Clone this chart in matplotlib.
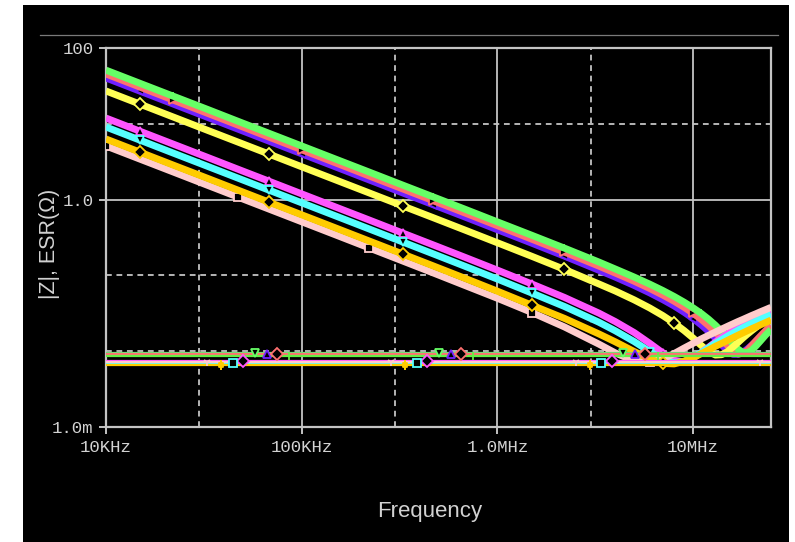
import matplotlib
matplotlib.use("Agg")
import matplotlib.pyplot as plt
from matplotlib.patches import Rectangle
from matplotlib.lines import Line2D
from matplotlib.ticker import FixedLocator, NullLocator

# frequency points (Hz) shared by all |Z| traces
freq = [1e4, 1.5e4, 2.2e4, 3.3e4, 4.7e4, 6.8e4, 1e5, 1.5e5, 2.2e5, 3.3e5, 4.7e5, 6.8e5,
        1e6, 1.5e6, 2.2e6, 3.3e6,
        4e6, 5e6, 6e6, 7e6, 8e6, 9e6, 10e6, 11e6, 12e6, 13e6, 14e6, 15e6, 16e6, 17e6,
        18e6, 19e6, 20e6, 21e6, 22e6,
        23.5e6, 25e6]

# |Z| in ohms
z_green = [51, 34.0, 23.2, 15.5, 10.85, 7.50, 5.10, 3.40, 2.32, 1.545, 1.085, 0.750,
           0.508, 0.338, 0.229, 0.150,
           0.1215, 0.0950, 0.0767, 0.0632, 0.0527, 0.0443, 0.0373, 0.0315, 0.0264, 0.0220,
           0.0182, 0.0150, 0.0124, 0.0106, 0.0096, 0.0096, 0.0104, 0.0118, 0.0135,
           0.0164, 0.0193]
z_salmon = [45.4, 30.3, 20.6, 13.76, 9.66, 6.68, 4.54, 3.03, 2.06, 1.376, 0.966, 0.668,
            0.4525, 0.300, 0.203, 0.1326,
            0.1074, 0.0837, 0.0672, 0.0550, 0.0456, 0.0379, 0.0316, 0.0263, 0.0217, 0.0178,
            0.0145, 0.0119, 0.0101, 0.0092, 0.0094, 0.0104, 0.0120, 0.0138, 0.0157,
            0.0187, 0.0218]
z_blue = [40.2, 26.8, 18.27, 12.18, 8.55, 5.91, 4.02, 2.68, 1.827, 1.218, 0.855, 0.591,
          0.4005, 0.2658, 0.1795, 0.1169,
          0.0950, 0.0736, 0.0588, 0.0479, 0.0395, 0.0326, 0.0270, 0.0222, 0.0182, 0.0148,
          0.0121, 0.0101, 0.0091, 0.0091, 0.0097, 0.0108, 0.0121, 0.0136, 0.0152,
          0.0176, 0.0203]
z_yellow = [27.1, 18.07, 12.32, 8.21, 5.77, 3.99, 2.71, 1.807, 1.232, 0.821, 0.577, 0.398,
            0.2695, 0.1784, 0.1199, 0.0771,
            0.0623, 0.0475, 0.0372, 0.0295, 0.0235, 0.0187, 0.0149, 0.0119, 0.0099, 0.0089,
            0.0090, 0.0099, 0.0114, 0.0131, 0.0150, 0.0169, 0.0188, 0.0207, 0.0227,
            0.0255, 0.0283]
z_magenta = [11.9, 7.93, 5.41, 3.61, 2.53, 1.75, 1.19, 0.793, 0.541, 0.360, 0.2525, 0.1739,
             0.1174, 0.0770, 0.0512, 0.0318,
             0.0246, 0.0176, 0.0127, 0.0095, 0.0076, 0.0072, 0.0081, 0.0096, 0.0113, 0.0132,
             0.0151, 0.0170, 0.0189, 0.0207, 0.0225, 0.0244, 0.0262, 0.0279, 0.0297,
             0.0323, 0.0349]
z_cyan = [9.07, 6.05, 4.12, 2.75, 1.93, 1.334, 0.907, 0.605, 0.412, 0.2744, 0.1924, 0.1325,
          0.0894, 0.0585, 0.0389, 0.0241,
          0.0186, 0.0134, 0.0099, 0.0078, 0.0070, 0.0073, 0.0083, 0.0096, 0.0111, 0.0127,
          0.0142, 0.0158, 0.0174, 0.0190, 0.0205, 0.0220, 0.0235, 0.0250, 0.0265,
          0.0287, 0.0309]
z_gold = [6.3, 4.2, 2.86, 1.91, 1.34, 0.926, 0.63, 0.42, 0.286, 0.1905, 0.1335, 0.0919,
          0.0619, 0.0404, 0.0271, 0.0169,
          0.0133, 0.0099, 0.0079, 0.0069, 0.0068, 0.0074, 0.0082, 0.0093, 0.0104, 0.0116,
          0.0127, 0.0139, 0.0151, 0.0163, 0.0175, 0.0187, 0.0199, 0.0210, 0.0222,
          0.0239, 0.0257]
z_pink = [5.1, 3.4, 2.32, 1.545, 1.085, 0.750, 0.51, 0.340, 0.2315, 0.154, 0.1078, 0.0739,
          0.0499, 0.0324, 0.0209, 0.0124,
          0.0095, 0.0074, 0.0071, 0.0079, 0.0093, 0.0110, 0.0127, 0.0145, 0.0162, 0.0179,
          0.0196, 0.0213, 0.0230, 0.0247, 0.0263, 0.0280, 0.0297, 0.0313, 0.0330,
          0.0354, 0.0379]

# ESR traces (ohms) and the frequencies where their symbols sit
esr_pink, esr_gold, esr_cyan, esr_magenta = 0.0073, 0.0066, 0.0070, 0.0075
esr_green, esr_blue, esr_red, esr_lime = 0.0095, 0.0091, 0.0092, 0.0087
esr_f_pink = [32.9e3, 287e3, 2.51e6, 21.9e6]
esr_f_gold = [38.8e3, 339e3, 2.96e6]
esr_f_cyan = [44.6e3, 389e3, 3.40e6]
esr_f_magenta = [50.2e3, 438e3, 3.83e6]
esr_f_green = [57.8e3, 505e3, 4.40e6]
esr_f_blue = [66.6e3, 581e3, 5.07e6]
esr_f_red = [74.9e3, 654e3, 5.71e6]
esr_f_lime = [86.3e3, 753e3, 6.58e6]

x_ticks = [1e4, 1e5, 1e6, 1e7]
x_labels = ["10KHz", "100KHz", "1.0MHz", "10MHz"]
y_ticks = [1e-3, 1.0, 100]
y_labels = ["1.0m", "1.0", "100"]

GREEN, SALMON, BLUE, YELLOW = "#66ff66", "#ff7070", "#7020ff", "#ffff55"
MAGENTA, CYAN, GOLD, PINK = "#ff55ff", "#55ffff", "#ffcc00", "#ffcccc"
GRID = "#c4c4c4"
TXT = "#d2d2d2"

fig = plt.figure(figsize=(7.95, 5.42), dpi=100)
fig.patch.set_facecolor("white")
fig.add_artist(Rectangle((23 / 795, 0), 766 / 795, 537 / 542, transform=fig.transFigure,
                         facecolor="black", edgecolor="none", zorder=-10))
fig.add_artist(Line2D([40 / 795, 778 / 795], [1 - 35 / 542, 1 - 35 / 542],
                      transform=fig.transFigure, color="#7a7a7a", lw=0.9))

ax = fig.add_axes([106 / 795, 115 / 542, 665 / 795, 379 / 542])
ax.set_facecolor("black")
ax.set_xscale("log")
ax.set_yscale("log")
ax.set_xlim(1e4, 2.5e7)
ax.set_ylim(1e-3, 100)

# grid: solid at decades, dashed in between
dash = (0, (3.2, 2.6))
for x in [1e5, 1e6, 1e7]:
    ax.axvline(x, color=GRID, lw=1.3, zorder=1)
for x in [3e4, 3e5, 3e6]:
    ax.axvline(x, color=GRID, lw=1.3, ls=dash, zorder=1)
ax.axhline(1.0, color=GRID, lw=1.3, zorder=1)
for y in [10, 0.1, 0.01]:
    ax.axhline(y, color=GRID, lw=1.3, ls=dash, zorder=1)

# |Z| traces, bottom stripe first so the upper one sits on top
traces = [
    (z_blue, BLUE, "<", [1, 6, 10, 14, 22]),
    (z_salmon, SALMON, ">", [2, 6, 10, 14, 22]),
    (z_green, GREEN, "2", [2, 6, 10, 14, 23]),
    (z_yellow, YELLOW, "D", [1, 5, 9, 14, 20]),
    (z_magenta, MAGENTA, "^", [1, 5, 9, 13, 19]),
    (z_cyan, CYAN, "v", [1, 5, 9, 13, 18]),
    (z_pink, PINK, "s", [0, 4, 8, 13, 18]),
    (z_gold, GOLD, "D", [1, 5, 9, 13, 19]),
]
for z, c, m, idx in traces:
    ax.plot(freq, z, color=c, lw=5, solid_capstyle="butt", zorder=3,
            marker=m, markevery=idx, ms=6, mec=c, mfc="black", mew=1.3)

# ESR traces
esr = [
    (esr_green, esr_f_green, GREEN, "v"),
    (esr_blue, esr_f_blue, BLUE, "^"),
    (esr_red, esr_f_red, SALMON, "D"),
    (esr_lime, esr_f_lime, "#66ee44", "+"),
    (esr_magenta, esr_f_magenta, MAGENTA, "D"),
    (esr_cyan, esr_f_cyan, CYAN, "s"),
    (esr_gold, esr_f_gold, GOLD, "$‡$"),
    (esr_pink, esr_f_pink, PINK, "1"),
]
for v, fm, c, m in esr:
    ax.plot([freq[0], freq[-1]], [v, v], color=c, lw=1.6, zorder=4)
    ax.plot(fm, [v] * len(fm), ls="none", marker=m, ms=6, mec=c, mfc="black",
            mew=1.3, color=c, zorder=5)

for s in ax.spines.values():
    s.set_color(GRID)
    s.set_linewidth(1.6)

ax.xaxis.set_major_locator(FixedLocator(x_ticks))
ax.xaxis.set_minor_locator(NullLocator())
ax.set_xticklabels(x_labels)
ax.yaxis.set_major_locator(FixedLocator(y_ticks))
ax.yaxis.set_minor_locator(NullLocator())
ax.set_yticklabels(y_labels)
ax.tick_params(axis="both", colors=GRID, labelcolor=TXT, length=5, width=1.4,
               direction="out", pad=4, labelsize=12.5)
for lab in ax.get_xticklabels() + ax.get_yticklabels():
    lab.set_family("Liberation Mono")

fig.text(50 / 795, 1 - 244 / 542, "|Z|, ESR(Ω)", rotation=90, ha="center", va="center",
         fontsize=15.5, color=TXT, family="Liberation Sans")
fig.text(430 / 795, 1 - 511 / 542, "Frequency", ha="center", va="center",
         fontsize=16, color=TXT, family="Liberation Sans")

fig.savefig("out.png", dpi=100)
